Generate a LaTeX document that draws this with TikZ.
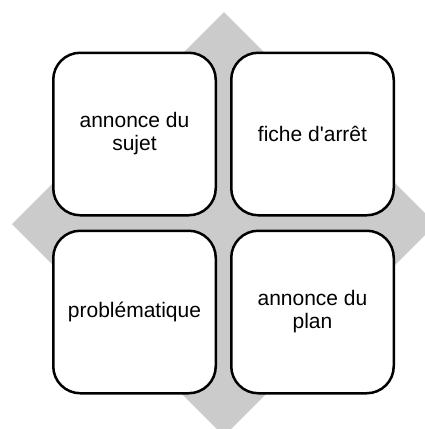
\documentclass[tikz,border=0pt]{standalone}
\usepackage{fontspec}
\setmainfont{Liberation Sans}
\usetikzlibrary{positioning}
\definecolor{diamondgray}{HTML}{CBCBCB}

\begin{document}
\begin{tikzpicture}[x=1pt,y=-1pt]
\tikzset{partbox/.style={draw,line width=2.5pt,rounded corners=27pt,fill=white,
minimum width=162.5pt,minimum height=162.5pt,inner sep=0pt,align=center,
font=\fontsize{21}{23}\selectfont}}
\useasboundingbox (0,0) rectangle (425,429);
% grey diamond behind the boxes
\begin{scope}
\clip (0,0) rectangle (425,429);
\fill[diamondgray] (224,12) -- (436,224) -- (224,436) -- (12,224) -- cycle;
\end{scope}
\node[partbox] (sujet) at (134.5,134) {annonce du\\sujet};
\node[partbox, right=13pt of sujet] (fiche) {fiche d\textquotesingle arrêt};
\node[partbox, below=13pt of sujet] (problematique) {problématique};
\node[partbox, below=13pt of fiche] (plan) {annonce du\\plan};
\end{tikzpicture}
\end{document}
